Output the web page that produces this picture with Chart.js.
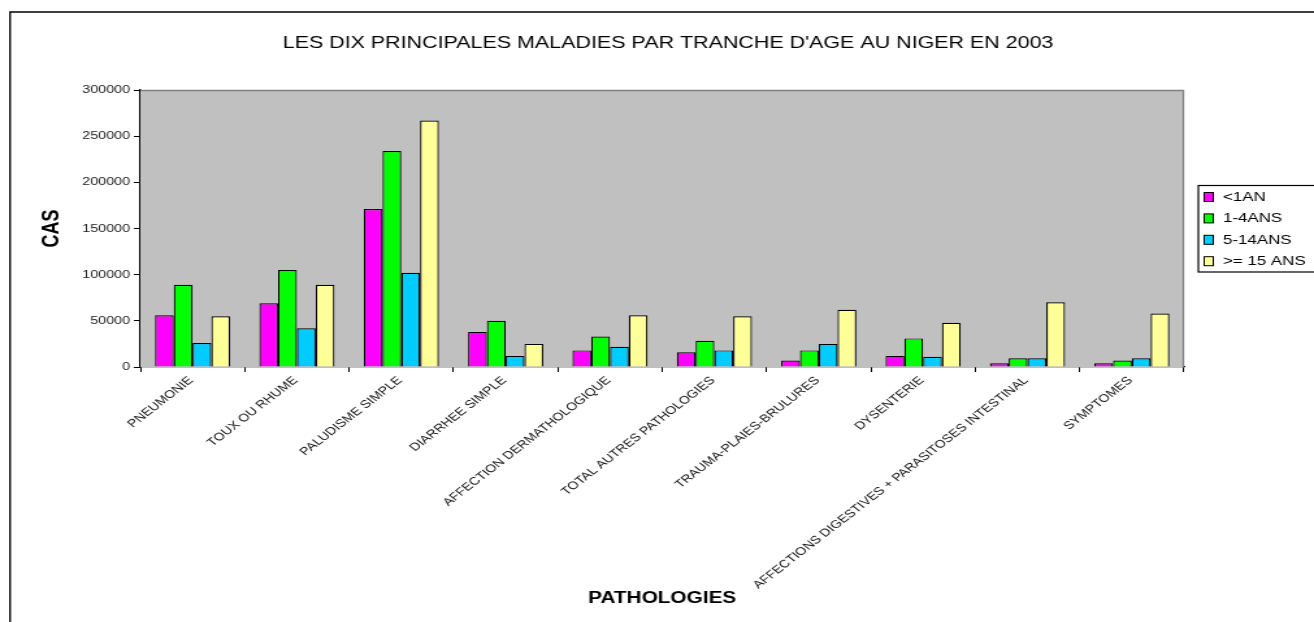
<!DOCTYPE html>
<html>
<head>
<meta charset="utf-8">
<script src="https://cdn.jsdelivr.net/npm/chart.js@4.4.1/dist/chart.umd.min.js"></script>
<style>
  html, body { margin: 0; padding: 0; background: #fff; }
  #c { display: block; width: 1314px; height: 622px; }
</style>
</head>
<body>
<canvas id="c" width="1011" height="622" style="width:1314px;height:622px;display:block"></canvas>
<script>
// ---- data ----
const chartTitle = "LES DIX PRINCIPALES MALADIES PAR TRANCHE D'AGE AU NIGER EN 2003";
const xTitle = "PATHOLOGIES";
const yTitle = "CAS";
const categories = [
  "PNEUMONIE",
  "TOUX OU RHUME",
  "PALUDISME SIMPLE",
  "DIARRHEE SIMPLE",
  "AFFECTION DERMATHOLOGIQUE",
  "TOTAL AUTRES PATHOLOGIES",
  "TRAUMA-PLAIES-BRULURES",
  "DYSENTERIE",
  "AFFECTIONS DIGESTIVES + PARASITOSES INTESTINAL",
  "SYMPTOMES"
];
const seriesNames = ["<1AN", "1-4ANS", "5-14ANS", ">= 15 ANS"];
const under1 = [56000, 69000, 171000, 38000, 18000, 16000, 7000, 12000, 4000, 4000];
const age1to4 = [89000, 105000, 234000, 50000, 33000, 28500, 18000, 31000, 9500, 7000];
const age5to14 = [26000, 42000, 102000, 12000, 22000, 18000, 25000, 11000, 9500, 9500];
const age15plus = [55000, 89000, 267000, 25000, 56000, 55000, 62000, 48000, 70000, 58000];
const yMin = 0, yMax = 300000, yStep = 50000;

const colors = ["#FF00FF", "#00FF00", "#00CCFF", "#FFFF99"];
const seriesValues = [under1, age1to4, age5to14, age15plus];

const FONT = "'Liberation Sans', Arial, sans-serif";

const decorPlugin = {
  id: 'decor',
  beforeDatasetsDraw(chart) {
    const {ctx, chartArea: a} = chart;
    ctx.save();
    ctx.fillStyle = '#C0C0C0';
    ctx.fillRect(a.left, a.top, a.right - a.left, a.bottom - a.top);
    ctx.strokeStyle = '#808080';
    ctx.lineWidth = 1.3;
    ctx.beginPath();
    ctx.moveTo(a.left, a.top + 0.5);
    ctx.lineTo(a.right - 0.5, a.top + 0.5);
    ctx.lineTo(a.right - 0.5, a.bottom);
    ctx.stroke();
    ctx.restore();
  },
  afterDraw(chart) {
    const {ctx} = chart;
    ctx.save();
    // outer frame
    ctx.strokeStyle = '#000';
    ctx.lineWidth = 1.4;
    ctx.beginPath();
    ctx.moveTo(7.7, 622);
    ctx.lineTo(7.7, 12);
    ctx.lineTo(1011, 12);
    ctx.stroke();
    // title
    ctx.fillStyle = '#000';
    ctx.font = "16.5px " + FONT;
    ctx.textAlign = 'center';
    ctx.textBaseline = 'middle';
    ctx.fillText(chartTitle, 514, 43);
    // legend
    const lx = 922, ly = 185.5, lw = 100, lh = 86.5;
    ctx.lineWidth = 1.2;
    ctx.strokeStyle = '#000';
    ctx.fillStyle = '#fff';
    ctx.fillRect(lx, ly, lw, lh);
    ctx.strokeRect(lx, ly, lw, lh);
    ctx.font = "13px " + FONT;
    ctx.textAlign = 'left';
    chart.data.datasets.forEach((ds, i) => {
      const cy = 197 + i * 21.4;
      ctx.fillStyle = ds.backgroundColor;
      ctx.fillRect(926.5, cy - 4.5, 7, 9);
      ctx.lineWidth = 1;
      ctx.strokeStyle = '#000';
      ctx.strokeRect(926.5, cy - 4.5, 7, 9);
      ctx.fillStyle = '#000';
      ctx.fillText(ds.label, 941, cy + 0.5);
    });
    ctx.restore();
  }
};

new Chart(document.getElementById('c'), {
  type: 'bar',
  data: {
    labels: categories,
    datasets: seriesNames.map((name, i) => ({
      label: name,
      data: seriesValues[i],
      backgroundColor: colors[i],
      borderColor: '#000',
      borderWidth: 1.2,
      borderSkipped: 'start',
      barPercentage: 1.0,
      categoryPercentage: 0.72
    }))
  },
  options: {
    responsive: false,
    animation: false,
    devicePixelRatio: 1,
    layout: { padding: { top: 90, right: 100, left: 0, bottom: 0 } },
    plugins: {
      legend: { display: false },
      title: { display: false },
      tooltip: { enabled: false }
    },
    scales: {
      x: {
        offset: true,
        afterFit: s => { s.height = 255; },
        grid: { display: true, drawOnChartArea: false, drawTicks: true, tickLength: 5, color: '#000', offset: true },
        border: { display: true, color: '#000', width: 1.3 },
        ticks: {
          autoSkip: false,
          minRotation: 45,
          maxRotation: 45,
          labelOffset: -1,
          padding: 2,
          color: '#111',
          font: { family: FONT, size: 11 }
        },
        title: {
          display: true,
          text: xTitle,
          color: '#000',
          font: { family: FONT, size: 16, weight: 'bold' },
          padding: { top: 0, bottom: 14 }
        }
      },
      y: {
        min: yMin,
        max: yMax,
        afterFit: s => { s.width = 108; },
        grid: { display: true, drawOnChartArea: false, drawTicks: true, tickLength: 5, color: '#000' },
        border: { display: true, color: '#000', width: 1.3 },
        ticks: {
          stepSize: yStep,
          padding: 3,
          color: '#222',
          font: { family: FONT, size: 11 },
          callback: v => String(v)
        },
        title: {
          display: true,
          text: yTitle,
          color: '#000',
          font: { family: FONT, size: 18, weight: 'bold' },
          padding: { top: 29.5, bottom: 0 }
        }
      }
    }
  },
  plugins: [decorPlugin]
});
</script>
</body>
</html>
